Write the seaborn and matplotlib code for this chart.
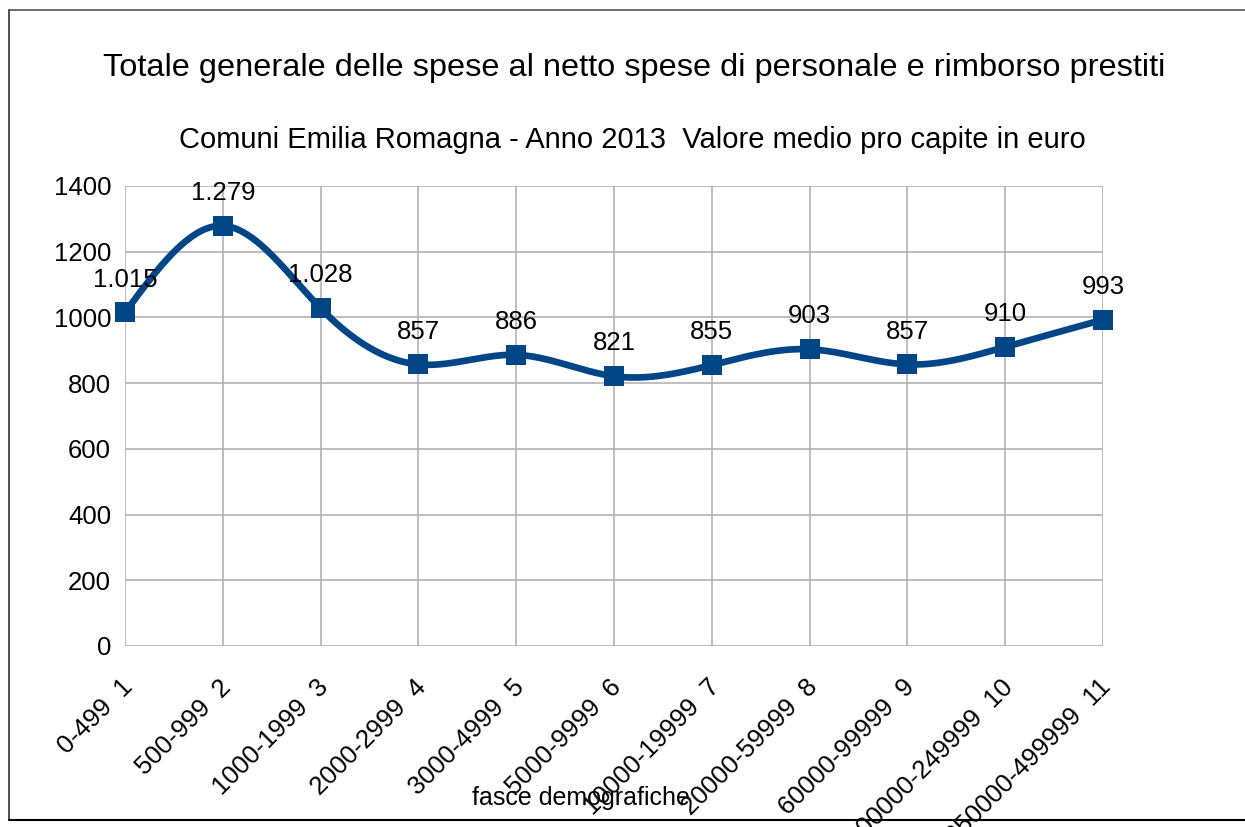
import matplotlib
matplotlib.use("Agg")
import matplotlib.pyplot as plt
import matplotlib.transforms as mtransforms
import numpy as np
import pandas as pd
import seaborn as sns

# data
fasce = ["0-499", "500-999", "1000-1999", "2000-2999", "3000-4999", "5000-9999",
         "10000-19999", "20000-59999", "60000-99999", "100000-249999", "250000-499999"]
codice = [1, 2, 3, 4, 5, 6, 7, 8, 9, 10, 11]
valore = [1015, 1279, 1028, 857, 886, 821, 855, 903, 857, 910, 993]
etichette = ["1.015", "1.279", "1.028", "857", "886", "821", "855", "903", "857", "910", "993"]

BLUE = "#004586"


def natural_spline(x, y, n=400):
    # natural cubic spline, only to draw the smoothed line like the original
    x = np.asarray(x, float)
    y = np.asarray(y, float)
    k = len(x)
    h = np.diff(x)
    A = np.zeros((k, k))
    b = np.zeros(k)
    A[0, 0] = A[-1, -1] = 1
    for i in range(1, k - 1):
        A[i, i - 1] = h[i - 1]
        A[i, i] = 2 * (h[i - 1] + h[i])
        A[i, i + 1] = h[i]
        b[i] = 6 * ((y[i + 1] - y[i]) / h[i] - (y[i] - y[i - 1]) / h[i - 1])
    M = np.linalg.solve(A, b)
    xs = np.linspace(x[0], x[-1], n)
    idx = np.clip(np.searchsorted(x, xs) - 1, 0, k - 2)
    x0, x1 = x[idx], x[idx + 1]
    hh = x1 - x0
    t0, t1 = x1 - xs, xs - x0
    ys = (M[idx] * t0**3 + M[idx + 1] * t1**3) / (6 * hh) \
        + (y[idx] / hh - M[idx] * hh / 6) * t0 + (y[idx + 1] / hh - M[idx + 1] * hh / 6) * t1
    return xs, ys


sns.set_theme(style="whitegrid")
plt.rcParams["font.family"] = ["Liberation Sans", "DejaVu Sans"]
plt.rcParams["text.color"] = "black"
plt.rcParams["xtick.color"] = "black"
plt.rcParams["ytick.color"] = "black"

df = pd.DataFrame({"codice": codice, "valore": valore})
xs, ys = natural_spline(codice, valore)
curve = pd.DataFrame({"x": xs, "y": ys})

fig = plt.figure(figsize=(12.45, 8.27), dpi=100)
ax = fig.add_axes([0.1004, 0.2189, 0.7855, 0.5562])

sns.lineplot(data=curve, x="x", y="y", color=BLUE, linewidth=4.8, ax=ax, zorder=3, clip_on=False)
sns.scatterplot(data=df, x="codice", y="valore", marker="s", s=210, color=BLUE,
                edgecolor=BLUE, linewidth=0, ax=ax, zorder=4, clip_on=False)

for xi, yi, lab in zip(codice, valore, etichette):
    ax.annotate(lab, (xi, yi), xytext=(0, 15), textcoords="offset points",
                ha="center", va="bottom", fontsize=18.5, color="black")

ax.set_xlim(1, 11)
ax.set_ylim(0, 1400)
ax.set_yticks(range(0, 1401, 200))
ax.set_xticks(codice)
ax.set_xticklabels([f"{f}  {c}" for f, c in zip(fasce, codice)], rotation=45,
                   ha="right", va="center", rotation_mode="anchor", fontsize=18.5)
ax.tick_params(axis="y", labelsize=18.5, length=6, color="#b3b3b3", width=1.2, pad=4)
ax.tick_params(axis="x", length=6, color="#b3b3b3", width=1.2, pad=21)
shift = mtransforms.ScaledTranslation(4 / 100, 0, fig.dpi_scale_trans)
for lbl in ax.get_xticklabels():
    lbl.set_transform(lbl.get_transform() + shift)
ax.grid(True, color="#b3b3b3", linewidth=1.2)
for s in ax.spines.values():
    s.set_visible(False)
ax.set_xlabel("")
ax.set_ylabel("")

fig.text(0.467, 0.021, "fasce demografiche", ha="center", va="bottom", fontsize=18, zorder=0)
fig.text(0.509, 0.918, "Totale generale delle spese al netto spese di personale e rimborso prestiti",
         ha="center", va="center", fontsize=23.4)
fig.text(0.508, 0.831, "Comuni Emilia Romagna - Anno 2013  Valore medio pro capite in euro",
         ha="center", va="center", fontsize=21)

# chart frame
fig.add_artist(plt.Line2D([9 / 1245, 1], [1 - 10 / 827, 1 - 10 / 827], color="#555555", linewidth=1.2))
fig.add_artist(plt.Line2D([9 / 1245, 9 / 1245], [1 - 10 / 827, 1 - 820 / 827], color="#333333", linewidth=1.2))
fig.add_artist(plt.Line2D([9 / 1245, 1], [1 - 820 / 827, 1 - 820 / 827], color="black", linewidth=1.5))

fig.savefig("out.png", dpi=100)
